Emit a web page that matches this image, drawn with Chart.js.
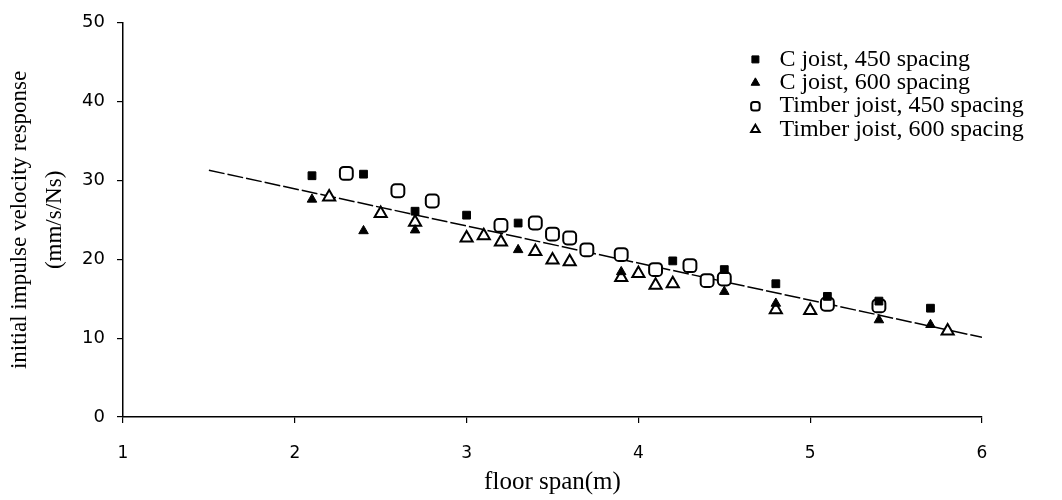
<!DOCTYPE html>
<html>
<head>
<meta charset="utf-8">
<script src="https://cdn.jsdelivr.net/npm/chart.js@4.4.1/dist/chart.umd.min.js"></script>
<style>
    html, body { margin: 0; padding: 0; background: #fff; }
    #wrap { width: 1062px; height: 500px; }
</style>
</head>
<body>
<div id="wrap"><canvas id="chart"></canvas></div>
<script>
// ── Data ────────────────────────────────────────────────────
const c450X = [2.1, 2.4, 2.7, 3.0, 3.3, 4.2, 4.5, 4.8, 5.1, 5.4, 5.7];
const c450Y = [30.6, 30.8, 26.1, 25.6, 24.6, 19.8, 18.7, 16.9, 15.3, 14.7, 13.8];

const c600X = [2.1, 2.4, 2.7, 3.3, 3.9, 4.5, 4.8, 5.4, 5.7];
const c600Y = [27.6, 23.6, 23.7, 21.2, 18.4, 15.9, 14.4, 12.3, 11.7];

const t450X = [2.3, 2.6, 2.8, 3.2, 3.4, 3.5, 3.6, 3.7, 3.9, 4.1, 4.3, 4.4, 4.5, 5.1, 5.4];
const t450Y = [30.9, 28.7, 27.4, 24.3, 24.6, 23.2, 22.7, 21.2, 20.6, 18.7, 19.2, 17.3, 17.5, 14.3, 14.1];

const t600X = [2.2, 2.5, 2.7, 3.0, 3.1, 3.2, 3.4, 3.5, 3.6, 3.9, 4.0, 4.1, 4.2, 4.8, 5.0, 5.8];
const t600Y = [27.9, 25.8, 24.7, 22.7, 23.0, 22.2, 21.0, 19.9, 19.7, 17.7, 18.2, 16.7, 16.9, 13.6, 13.5, 10.9];

// fitted trend line end points
const trendX = [1.5, 6.0];
const trendY = [31.3, 10.1];

const seriesNames = [
    'C joist, 450 spacing',
    'C joist, 600 spacing',
    'Timber joist, 450 spacing',
    'Timber joist, 600 spacing'
];

const xTicks = [1, 2, 3, 4, 5, 6];
const yTicks = [0, 10, 20, 30, 40, 50];

const pts = (xs, ys) => xs.map((x, i) => ({ x, y: ys[i] }));

const SERIF = "'Liberation Serif', 'Times New Roman', serif";
const SANS = "'DejaVu Sans', sans-serif";

// legend sits over the plot, upper right
const placeLegend = {
    id: 'placeLegend',
    afterLayout(chart) {
        const lg = chart.legend;
        if (!lg) return;
        lg.left = 744;
        lg.top = 48;
        lg.right = 1062;
        lg.bottom = 180;
    }
};

new Chart(document.getElementById('chart'), {
    type: 'scatter',
    data: {
        datasets: [
            {
                label: seriesNames[0],
                data: pts(c450X, c450Y),
                pointStyle: 'rect',
                pointRadius: 5.5,
                backgroundColor: '#000',
                borderColor: '#000',
                borderWidth: 1
            },
            {
                label: seriesNames[1],
                data: pts(c600X, c600Y),
                pointStyle: 'triangle',
                pointRadius: 5.5,
                backgroundColor: '#000',
                borderColor: '#000',
                borderWidth: 1
            },
            {
                label: seriesNames[2],
                data: pts(t450X, t450Y),
                pointStyle: 'rectRounded',
                pointRadius: 7.5,
                backgroundColor: '#fff',
                borderColor: '#000',
                borderWidth: 2
            },
            {
                label: seriesNames[3],
                data: pts(t600X, t600Y),
                pointStyle: 'triangle',
                pointRadius: 7,
                backgroundColor: '#fff',
                borderColor: '#000',
                borderWidth: 2
            },
            {
                type: 'line',
                label: 'trend',
                data: pts(trendX, trendY),
                borderColor: '#000',
                borderWidth: 1.5,
                borderDash: [16, 3],
                pointRadius: 0,
                fill: false,
                order: 10
            }
        ]
    },
    options: {
        responsive: true,
        maintainAspectRatio: false,
        animation: false,
        layout: { padding: { top: 18, right: 80, bottom: 0, left: 0 } },
        plugins: {
            legend: {
                position: 'chartArea',
                align: 'start',
                labels: {
                    filter: (item) => item.datasetIndex < 4,
                    usePointStyle: true,
                    boxWidth: 26,
                    boxHeight: 7,
                    padding: -0.6,
                    color: '#000',
                    font: { family: SERIF, size: 24, lineHeight: 1 }
                }
            },
            tooltip: { enabled: false }
        },
        scales: {
            x: {
                type: 'linear',
                min: xTicks[0],
                max: xTicks[xTicks.length - 1],
                afterBuildTicks: (s) => { s.ticks = xTicks.map(v => ({ value: v })); },
                afterFit: (s) => { s.height = 83; },
                border: { color: '#000', width: 1.5 },
                grid: { drawOnChartArea: false, color: '#000', tickLength: 6, lineWidth: 1.2 },
                ticks: {
                    color: '#000',
                    padding: 20,
                    font: { family: SANS, size: 17 }
                },
                title: {
                    display: true,
                    text: 'floor span(m)',
                    color: '#000',
                    padding: { top: 0, bottom: 3 },
                    font: { family: SERIF, size: 25, lineHeight: 1.2 }
                }
            },
            y: {
                type: 'linear',
                min: yTicks[0],
                max: yTicks[yTicks.length - 1],
                afterBuildTicks: (s) => { s.ticks = yTicks.map(v => ({ value: v })); },
                afterFit: (s) => { s.width = 123; },
                border: { color: '#000', width: 1.5 },
                grid: { drawOnChartArea: false, color: '#000', tickLength: 6, lineWidth: 1.2 },
                ticks: {
                    color: '#000',
                    padding: 12,
                    font: { family: SANS, size: 18 }
                },
                title: {
                    display: true,
                    text: ['initial impulse velocity response', '(mm/s/Ns)'],
                    color: '#000',
                    padding: { top: 3, bottom: 0 },
                    font: { family: SERIF, size: 23, lineHeight: 1.5 }
                }
            }
        }
    },
    plugins: [placeLegend]
});
</script>
</body>
</html>
